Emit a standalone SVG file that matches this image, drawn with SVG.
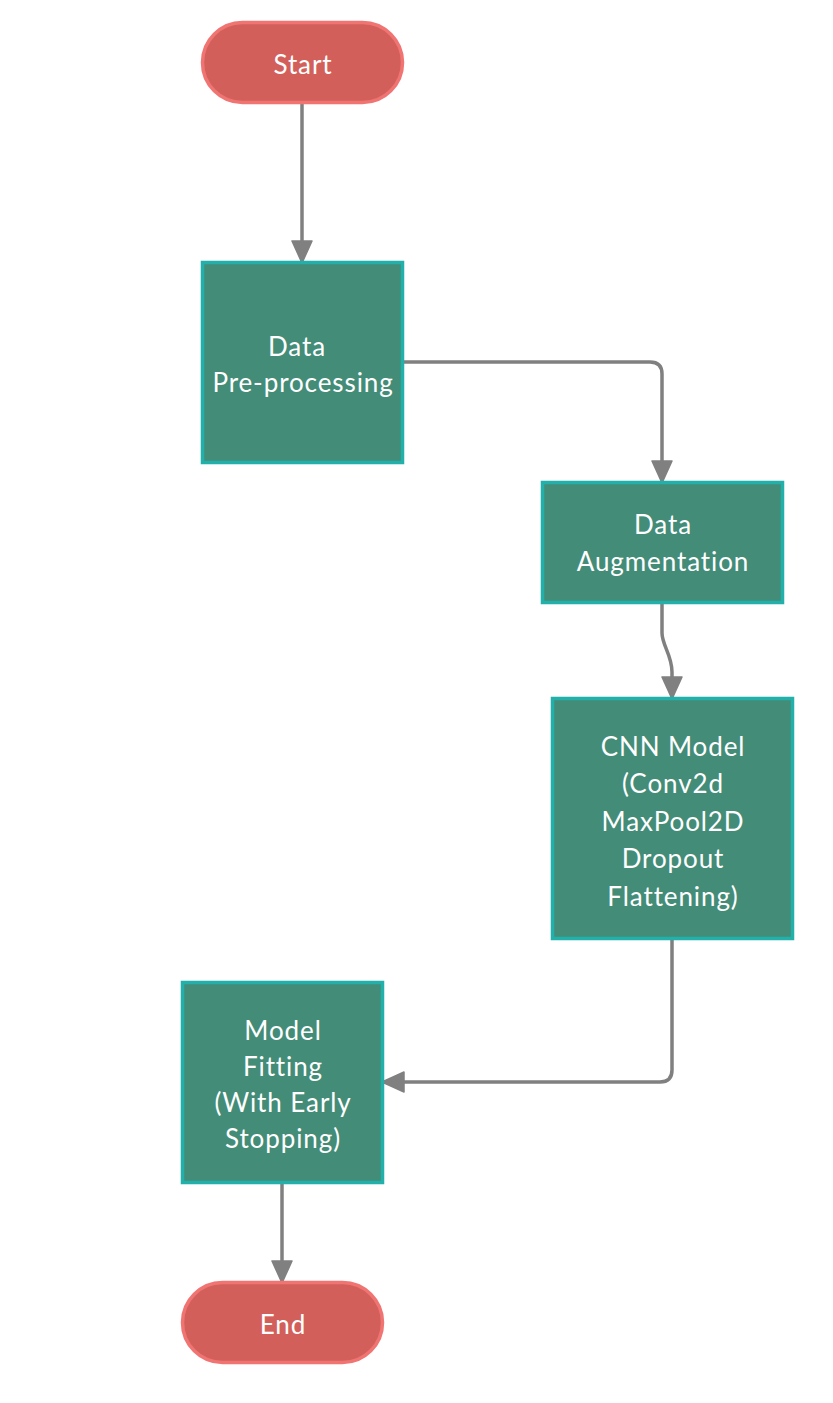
<svg xmlns="http://www.w3.org/2000/svg" width="833" height="1403" viewBox="0 0 833 1403">
<defs>
<style>
.term{fill:#d35f5a;stroke:#f07472;stroke-width:3.5}
.proc{fill:#438c78;stroke:#22b0aa;stroke-width:3.5}
.lbl{font-family:Lato,"Open Sans",sans-serif;font-size:26px;letter-spacing:0.9px;fill:#ffffff;text-anchor:middle}
.conn{fill:none;stroke:#808080;stroke-width:3.5}
</style>
<marker id="arr" markerUnits="userSpaceOnUse" markerWidth="26" markerHeight="22" refX="22" refY="11" orient="auto">
<path d="M1,1 L23,11 L1,21 Z" fill="#808080" stroke="#808080" stroke-width="1.5" stroke-linejoin="round"/>
</marker>
</defs>
<rect width="833" height="1403" fill="#ffffff"/>
<g id="connectors">
<path class="conn" d="M302,103 V262" marker-end="url(#arr)"/>
<path class="conn" d="M403,362 H650 Q662,362 662,374 V482" marker-end="url(#arr)"/>
<path class="conn" d="M662,603 V633 C662,645 672,655 672,672 V698" marker-end="url(#arr)"/>
<path class="conn" d="M672,939 V1070 Q672,1082 660,1082 H383" marker-end="url(#arr)"/>
<path class="conn" d="M282,1183 V1282" marker-end="url(#arr)"/>
</g>
<g id="start">
<rect class="term" x="202.5" y="22.5" width="200" height="80" rx="40"/>
<text class="lbl" x="303" y="74">Start</text>
</g>
<g id="preprocessing">
<rect class="proc" x="202.5" y="262.5" width="200" height="200"/>
<text class="lbl" x="297" y="355.5">Data</text>
<text class="lbl" x="303" y="391.5">Pre-processing</text>
</g>
<g id="augmentation">
<rect class="proc" x="542.5" y="482.5" width="240" height="120"/>
<text class="lbl" x="663" y="533.5">Data</text>
<text class="lbl" x="663" y="571">Augmentation</text>
</g>
<g id="cnn">
<rect class="proc" x="552.5" y="698.5" width="240" height="240"/>
<text class="lbl" x="673" y="755.5">CNN Model</text>
<text class="lbl" x="673" y="792.5">(Conv2d</text>
<text class="lbl" x="673" y="830.5">MaxPool2D</text>
<text class="lbl" x="673" y="867.5">Dropout</text>
<text class="lbl" x="673" y="905.5">Flattening)</text>
</g>
<g id="fitting">
<rect class="proc" x="182.5" y="982.5" width="200" height="200"/>
<text class="lbl" x="283" y="1039.5">Model</text>
<text class="lbl" x="283" y="1075.5">Fitting</text>
<text class="lbl" x="283" y="1111.5">(With Early</text>
<text class="lbl" x="283" y="1147.5">Stopping)</text>
</g>
<g id="end">
<rect class="term" x="182.5" y="1282.5" width="200" height="80" rx="40"/>
<text class="lbl" x="283" y="1334">End</text>
</g>
</svg>
